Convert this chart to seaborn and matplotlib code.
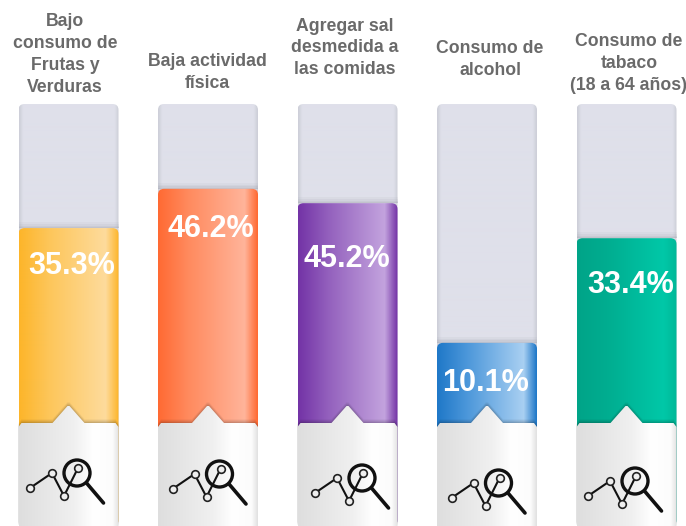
import numpy as np
import pandas as pd
import matplotlib
matplotlib.use("Agg")
import matplotlib.pyplot as plt
from matplotlib.colors import LinearSegmentedColormap
from matplotlib.patches import FancyBboxPatch, Polygon, Circle
import seaborn as sns

categories = ["Bajo\nconsumo de\nFrutas y\nVerduras", "Baja actividad\nfísica", "Agregar sal\ndesmedida a\nlas comidas",
              "Consumo de\nalcohol", "Consumo de\ntabaco\n(18 a 64 años)"]
values = [35.3, 46.2, 45.2, 10.1, 33.4]
# the coloured fills in the picture are not proportional to the printed numbers,
# so the fill level (percent of the track) is read off separately
fill_levels = [70.6, 79.9, 76.5, 43.4, 68.2]
track_levels = [100, 100, 100, 100, 100]
bar_ramps = [
    ["#FDB52A", "#FDC65A", "#FEDB9C", "#FDB52A"],
    ["#FF6A33", "#FF8A5E", "#FFB49A", "#FF6A33"],
    ["#7333A6", "#9360BD", "#C3A3DE", "#7333A6"],
    ["#1F78C8", "#4C97DA", "#A9D0F2", "#1F78C8"],
    ["#00A488", "#00AD90", "#00C8A8", "#00B898"],
]
label_y = [266, 229, 259, 383, 285]
label_x = [72, 211, 347, 486, 631]
title_y = [54.5, 72.5, 48, 59.5, 63.5]
title_x = [65, 207, 345, 490, 629]
icon_dx = [0, 3, 6, 3, 0]
icon_dy = [0, 1, 5, 10, 8]

W, H = 686, 526
sns.set_theme(style="white")
plt.rcParams["font.family"] = ["Liberation Sans", "DejaVu Sans"]

fig = plt.figure(figsize=(W / 100, H / 100), dpi=100)
ax = fig.add_axes([0, 0, 1, 1])
df = pd.DataFrame({"cat": categories, "track": track_levels, "fill": fill_levels})

STEP = 139.5
YMAX = 100 * H / 422
sns.barplot(data=df, x="cat", y="track", ax=ax, color="#DFE0EA", width=100 / STEP, saturation=1)
n_track = len(ax.patches)
sns.barplot(data=df, x="cat", y="fill", ax=ax, color="#FFA500", width=100 / STEP, saturation=1)
ax.axis("off")

# pixel overlay for panels, icons and text
ov = fig.add_axes([0, 0, 1, 1], zorder=5)
ov.axis("off")
ov.patch.set_alpha(0)

aspect = STEP / (H / YMAX)
round_x = 6 / STEP


def rounded(bar):
    # rounded outline matching a bar patch
    return FancyBboxPatch((bar.get_x(), 0), bar.get_width(), bar.get_height(),
                          boxstyle=f"round,pad=0,rounding_size={round_x}",
                          mutation_aspect=aspect, transform=ax.transData,
                          fc="none", ec="none")


tracks = ax.patches[:n_track]
fills = ax.patches[n_track:]
track_cmap = LinearSegmentedColormap.from_list("t", [(0, "#CDCFD8"), (.04, "#DFE0EA"), (.96, "#DFE0EA"), (1, "#CDCFD8")])
for bar in tracks:
    bar.set_visible(False)
    box = rounded(bar)
    ax.add_patch(box)
    x0, x1 = bar.get_x(), bar.get_x() + bar.get_width()
    im = ax.imshow(np.linspace(0, 1, 200)[None, :], cmap=track_cmap,
                   extent=[x0, x1, 0, bar.get_height()], aspect="auto", zorder=1)
    im.set_clip_path(box)

for bar, ramp in zip(fills, bar_ramps):
    bar.set_visible(False)
    x0, x1 = bar.get_x(), bar.get_x() + bar.get_width()
    top = bar.get_height()
    # soft shadow above the fill
    for k, a in zip([1.4, 1.0, 0.6, 0.3], [.08, .1, .14, .18]):
        ax.fill_between([x0, x1], top, top + k, color="#9A9CA8", alpha=a, lw=0, zorder=2)
    box = rounded(bar)
    ax.add_patch(box)
    cmap = LinearSegmentedColormap.from_list("b", list(zip([0, .3, .87, 1], ramp)))
    im = ax.imshow(np.linspace(0, 1, 200)[None, :], cmap=cmap, extent=[x0, x1, 0, top], aspect="auto", zorder=3)
    im.set_clip_path(box)
ax.set_xlim(-68.5 / STEP, (W - 68.5) / STEP)
ax.set_ylim(0, YMAX)

panel_cmap = LinearSegmentedColormap.from_list("p", [(0, "#DEDEDE"), (.55, "#F0F0F0"), (.75, "#FFFFFF"), (.94, "#FCFCFC"), (1, "#E2E2E2")])
for i, (name, val) in enumerate(zip(categories, values)):
    cx = 68.5 + i * STEP
    left, right = cx - 50, cx + 50
    outline = [(left, 526), (left, 427), (left + 3, 423), (cx - 16, 423), (cx - 1, 406), (cx + 1, 406), (cx + 16, 423),
               (right - 3, 423), (right, 427), (right, 526)]
    for dy, a in zip([4, 3, 2, 1], [.03, .05, .06, .08]):
        ov.add_patch(Polygon([(x, y - dy) for x, y in outline], closed=True, fc="#000000", alpha=a, ec="none", zorder=1))
    shape = Polygon(outline, closed=True, fc="none", ec="none")
    ov.add_patch(shape)
    im = ov.imshow(np.linspace(0, 1, 200)[None, :], cmap=panel_cmap, extent=[left, right, 526, 404], aspect="auto", zorder=2)
    im.set_clip_path(shape)

    # chart + magnifier icon
    ix, iy = cx + icon_dx[i], icon_dy[i]
    px = ix + np.array([-38.5, -16.5, -4.5, 9.5])
    py = iy + np.array([488, 473, 496, 468])
    ov.plot(px, py, color="#111111", lw=1.5, zorder=3, solid_capstyle="round")
    ov.plot(px, py, ls="none", marker="o", ms=5.5, mfc="#EEEEEE", mec="#222222", mew=1.2, zorder=4)
    ov.add_patch(Circle((ix + 8.5, iy + 473), 13, fc="none", ec="#111111", lw=2.4, zorder=5))
    ov.plot([ix + 18, ix + 35], [iy + 483, iy + 503], color="#111111", lw=2.6, solid_capstyle="round", zorder=5)

    ov.text(title_x[i], title_y[i], name, ha="center", va="center", fontsize=12.7, fontweight="bold",
            color="#6A6A6A", linespacing=1.36, zorder=6)
    ov.text(label_x[i], label_y[i], f"{val}%", ha="center", va="center", fontsize=22, fontweight="bold",
            color="#FFFFFF", zorder=6)
ov.set_xlim(0, W)
ov.set_ylim(H, 0)

fig.savefig("out.png", dpi=100)
